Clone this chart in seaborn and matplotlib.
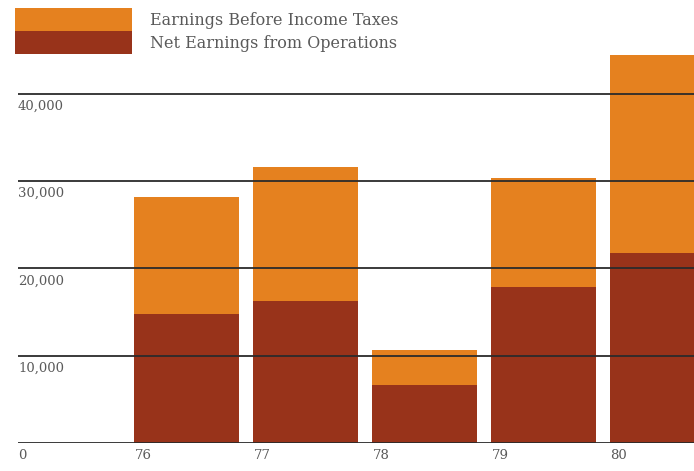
import matplotlib
matplotlib.use("Agg")
import matplotlib.pyplot as plt
import matplotlib.transforms as mtransforms
from matplotlib.patches import Patch
import pandas as pd
import seaborn as sns

# Fiscal years and earnings (thousands of dollars)
years = ["76", "77", "78", "79", "80"]
earnings_before_taxes = [28200, 31600, 10650, 30350, 44450]
net_earnings_operations = [14800, 16250, 6650, 17850, 21750]
y_ticks = [0, 10000, 20000, 30000, 40000]
y_tick_labels = ["0", "10,000", "20,000", "30,000", "40,000"]
series_labels = ["Earnings Before Income Taxes", "Net Earnings from Operations"]

ORANGE = "#E5811F"
DARK = "#98331A"
TEXT = "#5a5a5a"
FONT = ["DejaVu Serif", "Liberation Serif"]

df = pd.DataFrame({
    "year": years,
    "before": earnings_before_taxes,
    "net": net_earnings_operations,
})

sns.set_theme(style="white")
plt.rcParams["font.family"] = FONT

W, H = 694, 471
fig = plt.figure(figsize=(W / 100, H / 100), dpi=100)
fig.patch.set_facecolor("white")

# axes: baseline at pixel row 443, left edge at pixel column 18
ax = fig.add_axes([18 / W, (H - 443) / H, (W - 18) / W, 443 / H])
ax.set_facecolor("none")

bar_w = 0.875
sns.barplot(data=df, x="year", y="before", color=ORANGE, saturation=1,
            width=bar_w, linewidth=0, ax=ax, zorder=2)
sns.barplot(data=df, x="year", y="net", color=DARK, saturation=1,
            width=bar_w, linewidth=0, ax=ax, zorder=2)

ax.set_xlim(-1.416, 4.265)
ax.set_ylim(0, 50745)

for s in ax.spines.values():
    s.set_visible(False)
ax.set_xticks([])
ax.set_yticks([])
ax.set_xlabel("")
ax.set_ylabel("")

# horizontal rules drawn across the bars
for v in y_ticks:
    ax.axhline(v, color="#2b2b2b", lw=1.3, zorder=3)

tick_fs = 9.5
# value labels sit just under each rule, flush with the left edge
below = mtransforms.offset_copy(ax.transData, fig=fig, x=0, y=-6, units="dots")
for v, lab in zip(y_ticks, y_tick_labels):
    ax.text(ax.get_xlim()[0], v, lab, transform=below, ha="left", va="top",
            fontsize=tick_fs, color=TEXT, family=FONT)

# year labels left-aligned with each bar
below_x = mtransforms.offset_copy(ax.transData, fig=fig, x=0, y=-6, units="dots")
for i, yr in enumerate(years):
    ax.text(i - bar_w / 2, 0, yr, transform=below_x, ha="left", va="top",
            fontsize=tick_fs, color=TEXT, family=FONT)

handles = [Patch(facecolor=ORANGE, edgecolor="none"),
           Patch(facecolor=DARK, edgecolor="none")]
fs = 11.5
px_per_fs = fs * 100 / 72
fig.legend(handles, series_labels, loc="upper left",
           bbox_to_anchor=(15 / W, 1 - 8 / H), bbox_transform=fig.transFigure,
           frameon=False, borderpad=0, borderaxespad=0, labelspacing=0,
           handlelength=117 / px_per_fs, handleheight=1.26 * 23.5 / px_per_fs,
           handletextpad=18 / px_per_fs,
           prop={"family": FONT, "size": fs},
           labelcolor=TEXT)

fig.savefig("out.png", dpi=100, facecolor="white")
